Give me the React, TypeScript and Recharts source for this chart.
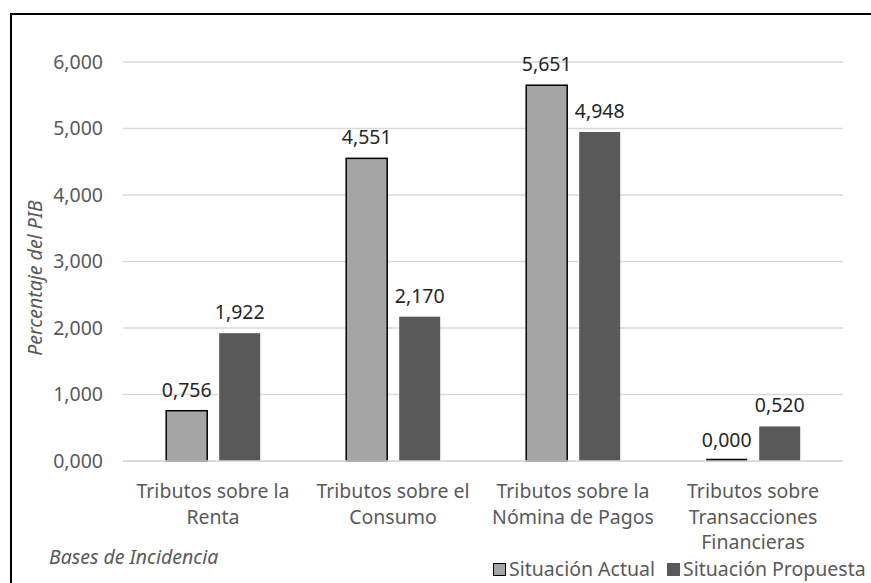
import { BarChart, Bar, XAxis, YAxis, CartesianGrid, LabelList } from 'recharts'

const CATEGORIES = [
  'Tributos sobre la\nRenta',
  'Tributos sobre el\nConsumo',
  'Tributos sobre la\nNómina de Pagos',
  'Tributos sobre\nTransacciones\nFinancieras',
]
const ACTUAL = [0.756, 4.551, 5.651, 0.0]
const PROPUESTA = [1.922, 2.17, 4.948, 0.52]
const Y_TICKS = [0, 1, 2, 3, 4, 5, 6]

const SERIES = [
  { key: 'actual', name: 'Situación Actual', fill: '#a5a5a5', stroke: '#000000' },
  { key: 'propuesta', name: 'Situación Propuesta', fill: '#595959', stroke: 'none' },
]

const data = CATEGORIES.map((name, i) => ({
  name,
  actual: ACTUAL[i],
  propuesta: PROPUESTA[i],
}))

const FONT = '"Noto Sans", "Open Sans", sans-serif'
const GREY = '#595959'
const FS = 19.5

// comma as decimal separator, three decimals
const fmt = (v: number) => Number(v).toFixed(3).replace('.', ',')

// multi-line category labels
function CategoryTick({ x, y, payload }: any) {
  const lines = String(payload.value).split('\n')
  return (
    <text x={x} y={y} textAnchor="middle" fill={GREY} fontSize={FS} fontFamily={FONT}>
      {lines.map((line, i) => (
        <tspan key={i} x={x} dy={i === 0 ? 29 : 25.5}>
          {line}
        </tspan>
      ))}
    </text>
  )
}

// outlined bar; a zero value still leaves its outline on the baseline
function OutlinedBar({ x, y, width, height, fill, stroke }: any) {
  if (!height || height <= 0) {
    if (stroke === 'none') return null
    return <path d={`M${x},${y - 1} h${width}`} stroke={stroke} strokeWidth={2.5} />
  }
  return <rect x={x} y={y} width={width} height={height} fill={fill} stroke={stroke} strokeWidth={1.5} />
}

function ChartLegend() {
  return (
    <div
      style={{
        position: 'absolute',
        left: 493,
        top: 558,
        display: 'flex',
        alignItems: 'center',
        fontFamily: FONT,
        fontSize: FS,
        lineHeight: '22px',
        color: GREY,
        whiteSpace: 'nowrap',
      }}
    >
      {SERIES.map((s, i) => (
        <div key={s.key} style={{ display: 'flex', alignItems: 'center', marginLeft: i === 0 ? 0 : 12 }}>
          <span
            style={{
              display: 'inline-block',
              boxSizing: 'border-box',
              width: 13,
              height: 13,
              background: s.fill,
              border: s.stroke === 'none' ? 'none' : '1.5px solid #000',
              marginRight: 3,
            }}
          />
          {s.name}
        </div>
      ))}
    </div>
  )
}

export default function App() {
  return (
    <div style={{ position: 'absolute', left: 0, top: 0, width: 871, height: 583, overflow: 'hidden', background: '#fff' }}>
      <div
        style={{
          position: 'absolute',
          left: 10,
          top: 13,
          width: 900,
          height: 620,
          borderTop: '2px solid #000',
          borderLeft: '2px solid #000',
        }}
      />
      <div style={{ position: 'absolute', left: 0, top: 0 }}>
        <BarChart
          width={871}
          height={583}
          data={data}
          margin={{ top: 62, right: 28, bottom: 92, left: 43 }}
          barGap={12}
          barCategoryGap="24%"
        >
          <CartesianGrid vertical={false} stroke="#d9d9d9" strokeWidth={1.5} />
          <XAxis
            dataKey="name"
            height={30}
            axisLine={{ stroke: '#d9d9d9', strokeWidth: 1.5 }}
            tickLine={false}
            tick={<CategoryTick />}
            interval={0}
          />
          <YAxis
            width={80}
            domain={[0, 6]}
            ticks={Y_TICKS}
            tickFormatter={fmt}
            axisLine={false}
            tickLine={false}
            tickSize={0}
            tickMargin={20}
            tick={{ fill: GREY, fontSize: FS, fontFamily: FONT }}
          />
          {SERIES.map((s) => (
            <Bar
              key={s.key}
              dataKey={s.key}
              name={s.name}
              fill={s.fill}
              stroke={s.stroke}
              shape={<OutlinedBar />}
              isAnimationActive={false}
            >
              <LabelList
                dataKey={s.key}
                position="top"
                offset={14}
                formatter={fmt}
                fill="#262626"
                fontSize={FS}
                fontFamily={FONT}
              />
            </Bar>
          ))}
        </BarChart>
      </div>
      <ChartLegend />
      <div
        style={{
          position: 'absolute',
          left: 34,
          top: 278,
          transform: 'translate(-50%, -50%) rotate(-90deg)',
          fontFamily: FONT,
          fontStyle: 'italic',
          fontSize: FS,
          color: GREY,
          whiteSpace: 'nowrap',
        }}
      >
        Percentaje del PIB
      </div>
      <div
        style={{
          position: 'absolute',
          left: 49,
          top: 543,
          fontFamily: FONT,
          fontStyle: 'italic',
          fontSize: FS,
          color: GREY,
          whiteSpace: 'nowrap',
        }}
      >
        Bases de Incidencia
      </div>
    </div>
  )
}
